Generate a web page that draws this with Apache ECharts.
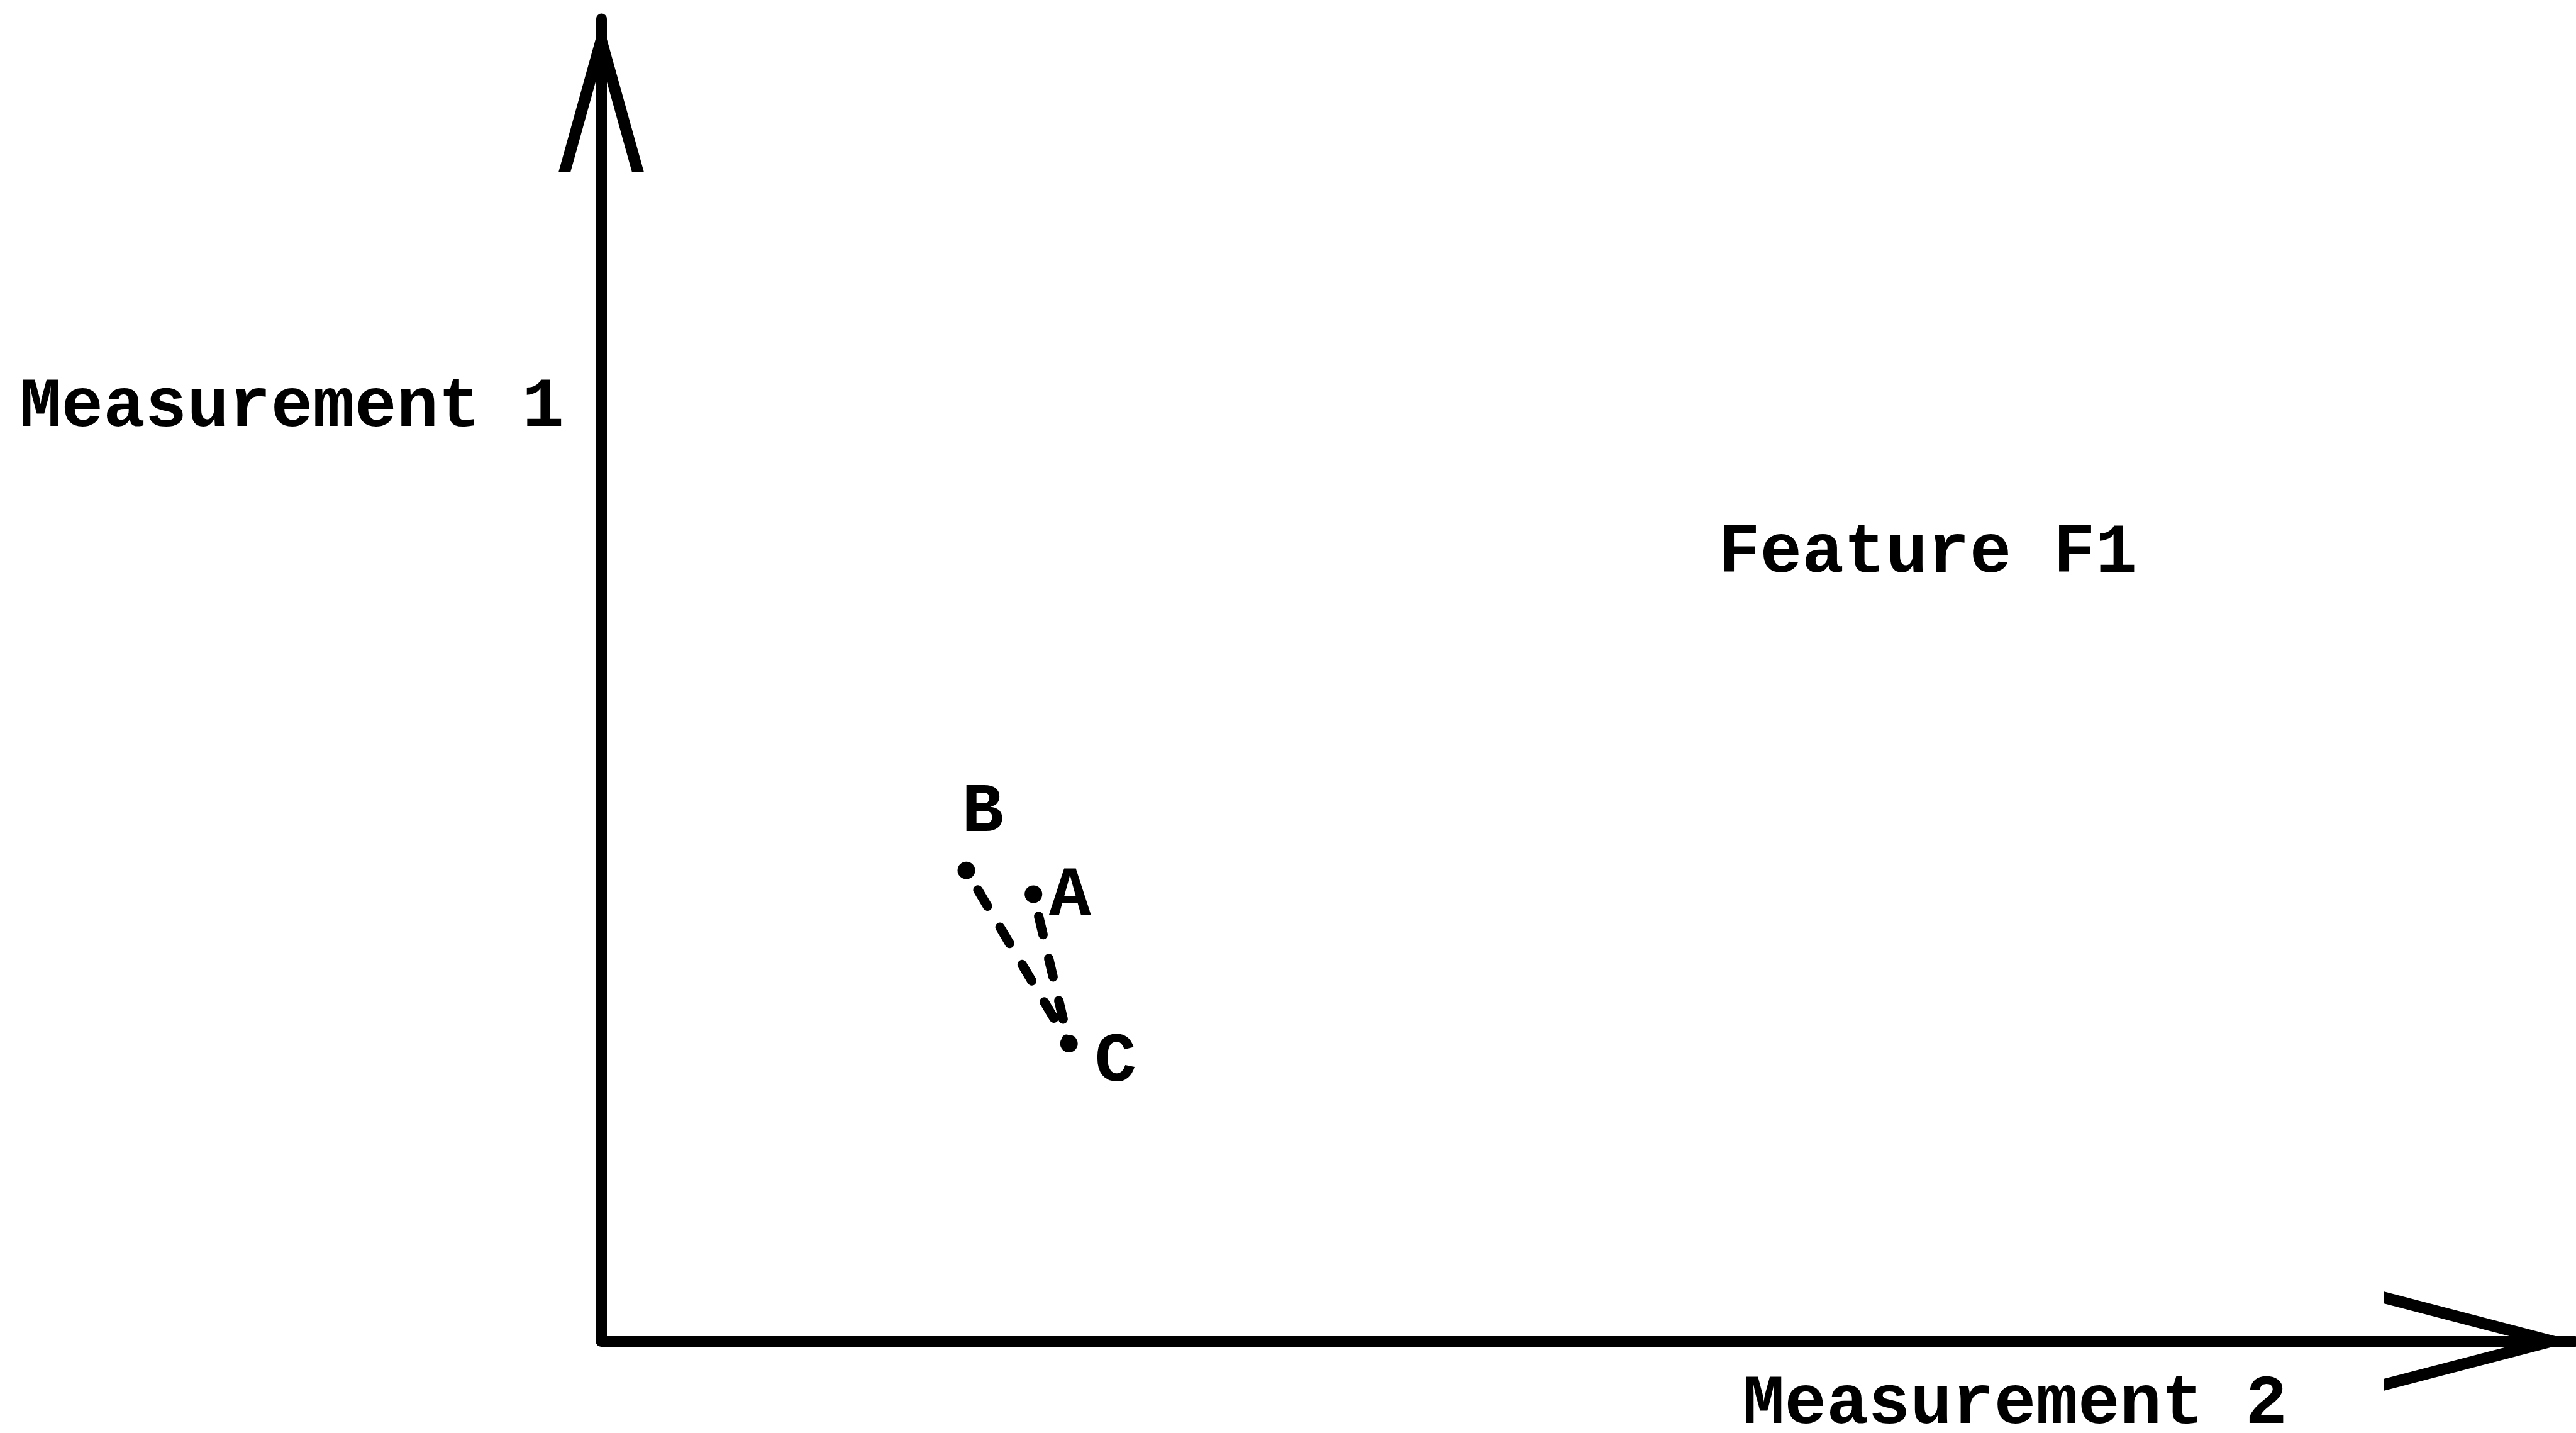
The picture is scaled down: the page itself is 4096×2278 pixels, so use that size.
<!DOCTYPE html>
<html>
<head>
<meta charset="utf-8">
<script src="https://cdn.jsdelivr.net/npm/echarts@6/dist/echarts.min.js"></script>
<style>
  html, body { margin: 0; padding: 0; background: #ffffff; }
  #chart { width: 4096px; height: 2278px; }
</style>
</head>
<body>
<div id="chart"></div>
<script>
// ---- data ----
const pointNames = ['A', 'B', 'C'];
const measurement2 = [21.9, 18.5, 23.7];   // horizontal axis values
const measurement1 = [33.8, 35.6, 22.5];   // vertical axis values
const links = [['B', 'C'], ['A', 'C']];    // dashed connections
const axisNames = ['Measurement 1', 'Measurement 2'];
const featureLabel = 'Feature F1';

// ---- styling / layout ----
const FONT = 'Liberation Mono';
const FS = 111;
const labelOffsets = { A: [58, 5], B: [26, -91], C: [74, 31] };

function idx(n) { return pointNames.indexOf(n); }

const chart = echarts.init(document.getElementById('chart'), null, { renderer: 'canvas' });

const yChevron = 'path://M0,244 L68,0 L136,244 L117,244 L68,68 L19,244 Z';
const xChevron = 'path://M0,304 L79,0 L158,304 L139,304 L79,73 L19,304 Z';

const lineSeries = links.map(function (pair) {
  return {
    type: 'line',
    data: pair.map(function (n) { return [measurement2[idx(n)], measurement1[idx(n)]]; }),
    symbol: 'none',
    silent: true,
    z: 2,
    lineStyle: { color: '#000', width: 15, type: [30, 39], dashOffset: 33, cap: 'round', opacity: 1 }
  };
});

const option = {
  backgroundColor: '#ffffff',
  animation: false,
  grid: { left: 956, right: 2, top: 30, bottom: 146, containLabel: false, outerBoundsMode: 'none' },
  xAxis: {
    type: 'value', min: 0, max: 100,
    axisLine: {
      show: true, onZero: false,
      lineStyle: { color: '#000', width: 17 },
      symbol: ['none', xChevron],
      symbolSize: [158, 304],
      symbolOffset: [0, -152]
    },
    axisTick: { show: false }, axisLabel: { show: false }, splitLine: { show: false }
  },
  yAxis: {
    type: 'value', min: 0, max: 100,
    axisLine: {
      show: true, onZero: false,
      lineStyle: { color: '#000', width: 17 },
      symbol: ['none', yChevron],
      symbolSize: [136, 244],
      symbolOffset: [0, -122]
    },
    axisTick: { show: false }, axisLabel: { show: false }, splitLine: { show: false }
  },
  series: lineSeries.concat([{
    type: 'scatter',
    z: 3,
    silent: true,
    symbol: 'circle',
    symbolSize: 28,
    itemStyle: { color: '#000', opacity: 1 },
    label: {
      show: true, position: 'inside', formatter: '{b}',
      fontFamily: FONT, fontWeight: 'bold', fontSize: FS, color: '#000000',
      textBorderWidth: 0, textBorderColor: 'transparent', opacity: 1,
      align: 'center', verticalAlign: 'middle'
    },
    data: pointNames.map(function (n, i) {
      return { name: n, value: [measurement2[i], measurement1[i]], label: { offset: labelOffsets[n] } };
    })
  }]),
  graphic: [
    { type: 'text', left: 31, top: 650 - 56, style: { text: axisNames[0], font: 'bold ' + FS + 'px "' + FONT + '"', fill: '#000' } },
    { type: 'text', left: 2732, top: 882 - 56, style: { text: featureLabel, font: 'bold ' + FS + 'px "' + FONT + '"', fill: '#000' } },
    { type: 'text', left: 2771, top: 2235 - 56, style: { text: axisNames[1], font: 'bold ' + FS + 'px "' + FONT + '"', fill: '#000' } }
  ]
};

chart.setOption(option);
</script>
</body>
</html>
